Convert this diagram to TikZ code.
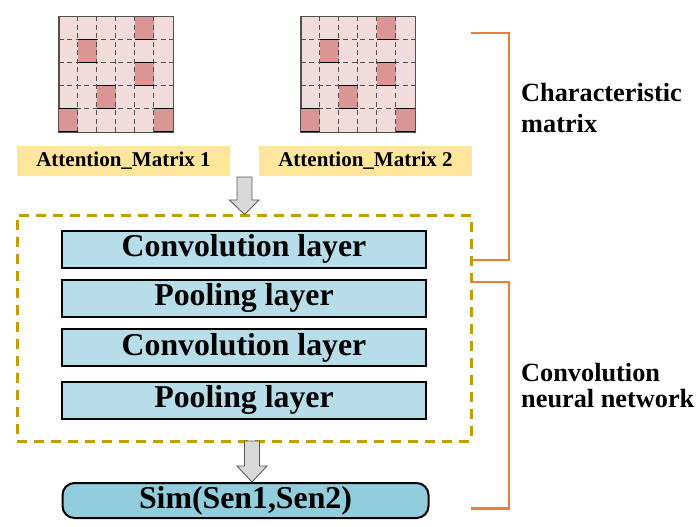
\documentclass[tikz,border=0pt]{standalone}
\usepackage{fontspec}
\setmainfont{Liberation Serif}
\definecolor{cellL}{HTML}{F2DCDB}
\definecolor{cellD}{HTML}{D99694}
\definecolor{gridC}{HTML}{505050}
\definecolor{labY}{HTML}{FFE699}
\definecolor{layB}{HTML}{B7DEE8}
\definecolor{simB}{HTML}{92CDDC}
\definecolor{goldD}{HTML}{C89B00}
\definecolor{orangeB}{HTML}{ED7D31}
\definecolor{arrG}{HTML}{D9D9D9}
\definecolor{arrE}{HTML}{5A5A5A}
\begin{document}
\begin{tikzpicture}[x=1pt,y=-1pt,
  matbox/.style={draw=gridC,line width=1pt,fill=cellL,minimum width=114pt,minimum height=115pt,inner sep=0pt},
  darkcell/.style={fill=cellD},
  gridline/.style={draw=gridC,line width=1pt,dash pattern=on 5pt off 3.5pt},
  lab/.style={fill=labY,minimum width=213pt,minimum height=30pt,inner sep=0pt,font=\fontsize{21}{24}\selectfont\bfseries},
  layer/.style={draw=black,line width=2pt,fill=layB,minimum width=364pt,minimum height=37pt,inner sep=0pt,font=\fontsize{31.8}{36}\selectfont\bfseries},
  simbox/.style={draw=black,line width=2pt,fill=simB,rounded corners=12pt,minimum width=366pt,minimum height=35pt,inner sep=0pt,font=\fontsize{31.8}{36}\selectfont\bfseries},
  dbox/.style={draw=goldD,line width=3pt,dash pattern=on 10pt off 7pt,minimum width=454pt,minimum height=226pt,inner sep=0pt},
  bracket/.style={draw=orangeB,line width=2.8pt},
  blockarrow/.style={draw=arrE,line width=0.9pt,fill=arrG,line join=miter},
  sidelab/.style={anchor=base west,align=left,inner sep=0pt,font=\fontsize{26.3}{30}\selectfont\bfseries}
]
\useasboundingbox (0,0) rectangle (699,527);

% attention matrices
\foreach \name/\cx in {m1/116,m2/358} {
  \node[matbox] (\name) at (\cx,74.5) {};
  \begin{scope}[shift={(\name.north west)}]
    \foreach \c/\r in {4/0,1/1,4/2,2/3,0/4,5/4} {
      \fill[darkcell] (\c*19,\r*23) rectangle ++(19,23);
    }
    \foreach \i in {1,...,5} \draw[gridline] (\i*19,0) -- (\i*19,115);
    \foreach \j in {1,...,4} \draw[gridline] (0,\j*23) -- (114,\j*23);
    \foreach \c/\r in {4/0,1/1,4/2,2/3,0/4,5/4} {
      \draw[black,line width=1.5pt] (\c*19,\r*23) -- ++(19,0) (\c*19,\r*23+23) -- ++(19,0);
    }
  \end{scope}
  \draw[draw=gridC,line width=1.1pt] (\name.north west) rectangle (\name.south east);
}

% labels
\node[lab] (l1) at (123.5,161) {Attention\_Matrix 1};
\node[lab] (l2) at (365.5,161) {Attention\_Matrix 2};

% dashed CNN box and layers
\node[dbox] (cnn) at (244,328) {};
\node[layer] (c1) at (244,249) {Convolution layer};
\node[layer] (p1) at (244,298) {Pooling layer};
\node[layer] (c2) at (244,347.5) {Convolution layer};
\node[layer] (p2) at (244,400) {Pooling layer};

% result
\node[simbox] (sim) at (245.5,500.5) {Sim(Sen1,Sen2)};

% block arrows
\coordinate (a1tip) at (244.5,214.5);
\draw[blockarrow] (a1tip) ++(-7.5,-37.5) -- ++(15,0) -- ++(0,23) -- ++(7,0) -- (a1tip) -- ++(-15,-14.5) -- ++(7.5,0) -- cycle;
\coordinate (a2tip) at (sim.north -| 252,0);
\draw[blockarrow] (a2tip) ++(-7.5,-41) -- ++(15,0) -- ++(0,25) -- ++(7.5,0) -- (a2tip) -- ++(-15,-16) -- ++(7.5,0) -- cycle;

% brackets
\coordinate (b1a) at (471,33);
\coordinate (b1b) at (509,33);
\coordinate (b1c) at (509,260);
\coordinate (b1d) at (471,260);
\draw[bracket] (b1a) -- (b1b) -- (b1c) -- (b1d);
\coordinate (b2a) at (471,282);
\coordinate (b2b) at (509,282);
\coordinate (b2c) at (509,508.5);
\coordinate (b2d) at (471,508.5);
\draw[bracket] (b2a) -- (b2b) -- (b2c) -- (b2d);

% side labels (base anchor = last line's baseline)
\node[sidelab] (t1) at (521,132) {Characteristic\\[1pt]matrix};
\node[sidelab] (t2) at (521,407) {Convolution\\[-4pt]neural network};
\end{tikzpicture}
\end{document}
